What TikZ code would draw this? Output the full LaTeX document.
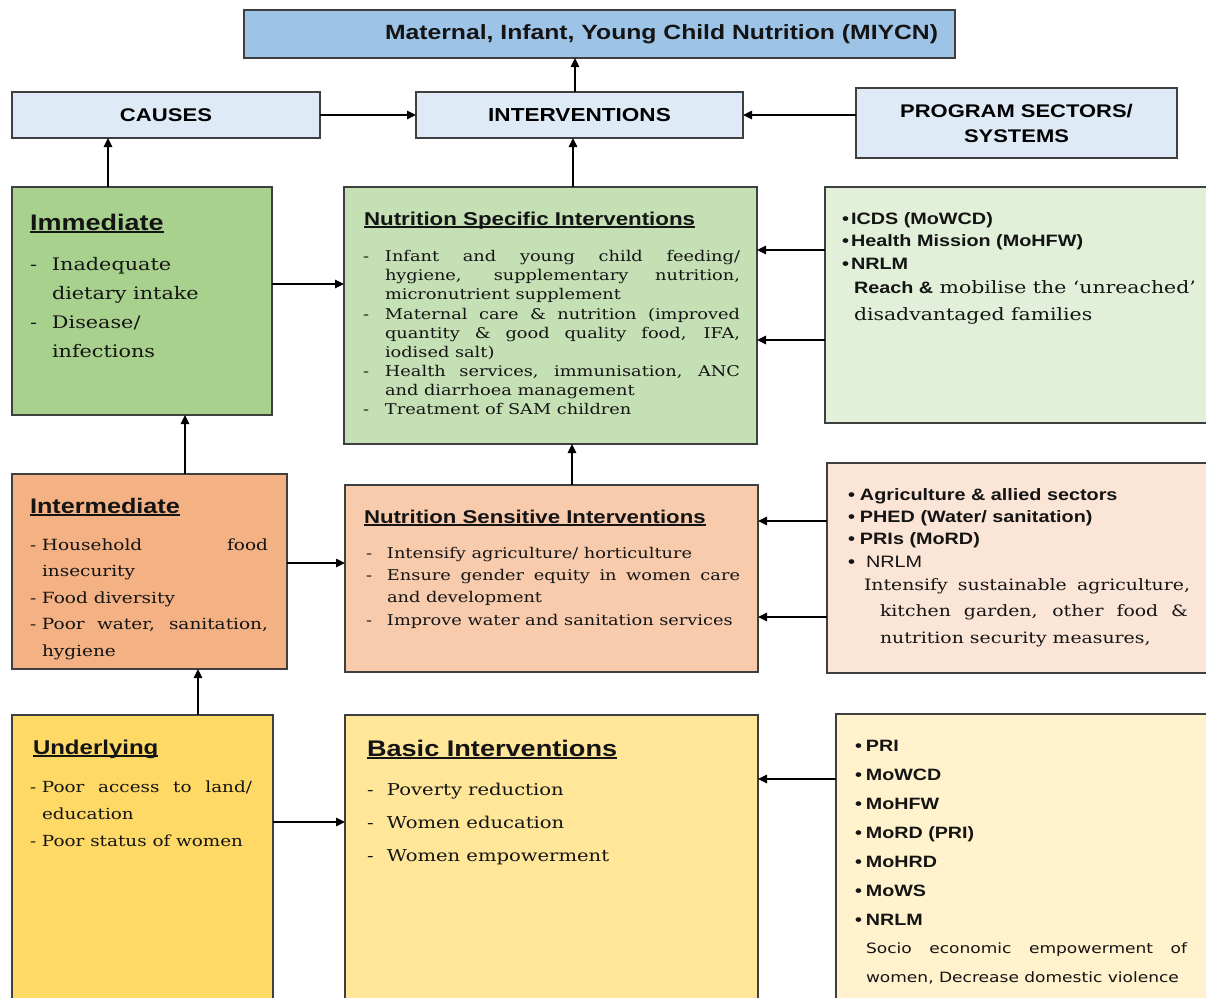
\documentclass[tikz,border=0pt]{standalone}
\usepackage{fontspec}
\usetikzlibrary{arrows.meta}
\newfontfamily\fsans[FakeStretch=1.2]{Liberation Sans}
\newfontfamily\fserif[FakeStretch=1.2]{DejaVu Serif}
\newfontfamily\fverd[FakeStretch=1.2]{DejaVu Sans}
\newcommand\setfs[2]{\fontsize{#1}{#2}\selectfont}
\newcommand\jbox[2]{\makebox[#1][s]{#2}}
\newcommand\leadbox[2]{\makebox[#1][l]{#2}}
\newcommand\hdu[1]{\setbox0\hbox{#1}\rlap{\rule[-2.6pt]{\wd0}{1.3pt}}\box0}
\definecolor{cMiy}{HTML}{9DC3E6}
\definecolor{cTop}{HTML}{DEEBF7}
\definecolor{cImm}{HTML}{A9D18E}
\definecolor{cNSpec}{HTML}{C5E0B4}
\definecolor{cGreenR}{HTML}{E2F0D9}
\definecolor{cInter}{HTML}{F4B183}
\definecolor{cNSens}{HTML}{F8CBAD}
\definecolor{cPeachR}{HTML}{FBE5D6}
\definecolor{cUnder}{HTML}{FFD966}
\definecolor{cBasic}{HTML}{FFE699}
\definecolor{cYellowR}{HTML}{FFF2CC}
\definecolor{boxline}{HTML}{3F3F3F}
\begin{document}
\begin{tikzpicture}[x=1pt,y=-1pt,
  box/.style={draw=boxline, line width=1.4pt, inner sep=0pt, outer sep=0pt, anchor=north west},
  txt/.style={inner sep=0pt, outer sep=0pt, align=left, text=black!92, anchor=base west},
  arr/.style={-{Triangle[length=9pt,width=8.5pt]}, line width=1.5pt, draw=black},
]
\useasboundingbox (0,0) rectangle (1206,997);
\fill[white] (0,0) rectangle (1206,997);
\clip (0,0) rectangle (1206,997);

% (multi-line text nodes are placed by the baseline of their LAST line)

% ---------- top row ----------
\node[box, fill=cMiy, minimum width=711pt, minimum height=48pt] (miycn) at (244,10) {};
\node[txt, anchor=base east, font={\fsans\bfseries\setfs{20.6}{24}}] (miycntxt) at (938,39.5) {Maternal, Infant, Young Child Nutrition (MIYCN)};
\node[box, fill=cTop, minimum width=308pt, minimum height=46pt, align=center, font={\fsans\bfseries\setfs{18.4}{24}}] (causes) at (12,92) {CAUSES};
\node[box, fill=cTop, minimum width=327pt, minimum height=46pt, align=center, font={\fsans\bfseries\setfs{18.8}{24}}] (interv) at (416,92) {INTERVENTIONS};
\node[box, fill=cTop, minimum width=321pt, minimum height=70pt, align=center, font={\fsans\bfseries\setfs{18.3}{25}}] (prog) at (856,88) {PROGRAM SECTORS/\\SYSTEMS};

% ---------- row 1 ----------
\node[box, fill=cImm, minimum width=260pt, minimum height=228pt] (imm) at (12,187) {};
\node[box, fill=cNSpec, minimum width=413pt, minimum height=257pt] (nspec) at (344,187) {};
\node[box, fill=cGreenR, minimum width=400pt, minimum height=236pt] (sgreen) at (825,187) {};

\node[txt, font={\fsans\bfseries\setfs{22.5}{26}}] (immh) at (30,230) {\hdu{Immediate}};
\node[txt, font={\fserif\setfs{17.3}{28.7}}] (immtxt) at (30,357)
 {\leadbox{22pt}{-}Inadequate\\
  \hspace*{22pt}dietary intake\\
  \leadbox{22pt}{-}Disease/\\
  \hspace*{22pt}infections};

\node[txt, font={\fsans\bfseries\setfs{18.6}{22}}] (nspech) at (364,225) {\hdu{Nutrition Specific Interventions}};
\node[txt, font={\fserif\setfs{14.8}{19.16}}] (nspectxt) at (363,414.8)
 {\leadbox{22pt}{-}\jbox{355pt}{Infant and young child feeding/}\\
  \hspace*{22pt}\jbox{355pt}{hygiene, supplementary nutrition,}\\
  \hspace*{22pt}micronutrient supplement\\
  \leadbox{22pt}{-}\jbox{355pt}{Maternal care \& nutrition (improved}\\
  \hspace*{22pt}\jbox{355pt}{quantity \& good quality food, IFA,}\\
  \hspace*{22pt}iodised salt)\\
  \leadbox{22pt}{-}\jbox{355pt}{Health services, immunisation, ANC}\\
  \hspace*{22pt}and diarrhoea management\\
  \leadbox{22pt}{-}Treatment of SAM children};

\node[txt, font={\fsans\bfseries\setfs{16.5}{22.5}}] (sgreenb) at (842,269)
 {\leadbox{9pt}{•}ICDS (MoWCD)\\
  \leadbox{9pt}{•}Health Mission (MoHFW)\\
  \leadbox{9pt}{•}NRLM};
\node[txt, font={\fserif\setfs{17}{27}}] (sgreent) at (854,320)
 {{\fsans\bfseries\setfs{16.5}{27}Reach \&} mobilise the ‘unreached’\\
  disadvantaged families};

% ---------- row 2 ----------
\node[box, fill=cInter, minimum width=275pt, minimum height=195pt] (inter) at (12,474) {};
\node[box, fill=cNSens, minimum width=413pt, minimum height=187pt] (nsens) at (345,485) {};
\node[box, fill=cPeachR, minimum width=390pt, minimum height=210pt] (speach) at (827,463) {};

\node[txt, font={\fsans\bfseries\setfs{21}{24}}] (interh) at (30,513) {\hdu{Intermediate}};
\node[txt, font={\fserif\setfs{15.4}{26.5}}] (intertxt) at (30,656)
 {\leadbox{12pt}{-}\jbox{226pt}{Household food}\\
  \hspace*{12pt}insecurity\\
  \leadbox{12pt}{-}Food diversity\\
  \leadbox{12pt}{-}\jbox{226pt}{Poor water, sanitation,}\\
  \hspace*{12pt}hygiene};

\node[txt, font={\fsans\bfseries\setfs{18.5}{22}}] (nsensh) at (364,523) {\hdu{Nutrition Sensitive Interventions}};
\node[txt, font={\fserif\setfs{14.8}{22.3}}] (nsenstxt) at (366,625)
 {\leadbox{21pt}{-}Intensify agriculture/ horticulture\\
  \leadbox{21pt}{-}\jbox{353pt}{Ensure gender equity in women care}\\
  \hspace*{21pt}and development\\
  \leadbox{21pt}{-}Improve water and sanitation services};

\node[txt, font={\fsans\bfseries\setfs{16.5}{22.4}}] (speachb) at (848,567.2)
 {\leadbox{12pt}{•}Agriculture \& allied sectors\\
  \leadbox{12pt}{•}PHED (Water/ sanitation)\\
  \leadbox{12pt}{•}PRIs (MoRD)\\
  \leadbox{18pt}{•}{\mdseries NRLM}};
\node[txt, font={\fserif\setfs{15.7}{26.5}}] (speacht) at (864,643)
 {\jbox{326pt}{Intensify sustainable agriculture,}\\
  \hspace*{16pt}\jbox{308pt}{kitchen garden, other food \&}\\
  \hspace*{16pt}nutrition security measures,};

% ---------- row 3 ----------
\node[box, fill=cUnder, minimum width=261pt, minimum height=300pt] (under) at (12,715) {};
\node[box, fill=cBasic, minimum width=413pt, minimum height=300pt] (basic) at (345,715) {};
\node[box, fill=cYellowR, minimum width=380pt, minimum height=300pt] (syellow) at (836,714) {};

\node[txt, font={\fsans\bfseries\setfs{20}{24}}] (underh) at (33,754) {\hdu{Underlying}};
\node[txt, font={\fserif\setfs{15.3}{27}}] (undertxt) at (30,846)
 {\leadbox{12pt}{-}\jbox{210pt}{Poor access to land/}\\
  \hspace*{12pt}education\\
  \leadbox{12pt}{-}Poor status of women};

\node[txt, font={\fsans\bfseries\setfs{22.6}{26}}] (basich) at (367,756) {\hdu{Basic Interventions}};
\node[txt, font={\fserif\setfs{16.3}{33}}] (basictxt) at (367,861)
 {\leadbox{20pt}{-}Poverty reduction\\
  \leadbox{20pt}{-}Women education\\
  \leadbox{20pt}{-}Women empowerment};

\node[txt, font={\fsans\bfseries\setfs{16.4}{29}}] (syellowb) at (855,925)
 {\leadbox{11pt}{•}PRI\\
  \leadbox{11pt}{•}MoWCD\\
  \leadbox{11pt}{•}MoHFW\\
  \leadbox{11pt}{•}MoRD (PRI)\\
  \leadbox{11pt}{•}MoHRD\\
  \leadbox{11pt}{•}MoWS\\
  \leadbox{11pt}{•}NRLM};
\node[txt, font={\fverd\setfs{14.2}{29}}] (syellowt) at (866,982)
 {\jbox{321pt}{Socio economic empowerment of}\\
  women, Decrease domestic violence};

% ---------- connectors ----------
\coordinate (xA) at (575,0);
\coordinate (xB) at (108,0);
\coordinate (xC) at (573,0);
\coordinate (xD) at (185,0);
\coordinate (xE) at (572,0);
\coordinate (xF) at (198,0);
\coordinate (yA) at (0,284);
\coordinate (yB) at (0,250);
\coordinate (yC) at (0,340);
\coordinate (yD) at (0,563);
\coordinate (yE) at (0,521);
\coordinate (yF) at (0,617);
\coordinate (yG) at (0,822);
\coordinate (yH) at (0,779);

\draw[arr] (interv.north -| xA) -- (miycn.south -| xA);
\draw[arr] (causes.east) -- (interv.west);
\draw[arr] (prog.west |- interv.east) -- (interv.east);
\draw[arr] (imm.north -| xB) -- (causes.south -| xB);
\draw[arr] (nspec.north -| xC) -- (interv.south -| xC);
\draw[arr] (imm.east |- yA) -- (nspec.west |- yA);
\draw[arr] (sgreen.west |- yB) -- (nspec.east |- yB);
\draw[arr] (sgreen.west |- yC) -- (nspec.east |- yC);
\draw[arr] (inter.north -| xD) -- (imm.south -| xD);
\draw[arr] (nsens.north -| xE) -- (nspec.south -| xE);
\draw[arr] (inter.east |- yD) -- (nsens.west |- yD);
\draw[arr] (speach.west |- yE) -- (nsens.east |- yE);
\draw[arr] (speach.west |- yF) -- (nsens.east |- yF);
\draw[arr] (under.north -| xF) -- (inter.south -| xF);
\draw[arr] (under.east |- yG) -- (basic.west |- yG);
\draw[arr] (syellow.west |- yH) -- (basic.east |- yH);
\end{tikzpicture}
\end{document}
